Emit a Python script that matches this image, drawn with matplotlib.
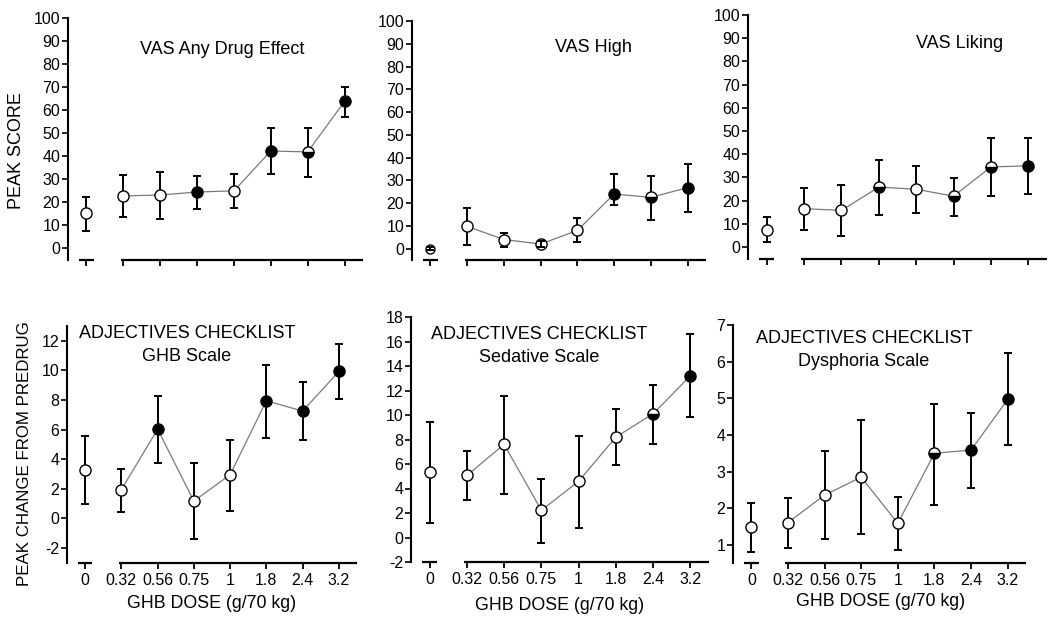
import matplotlib
matplotlib.use('Agg')
import matplotlib.pyplot as plt
import numpy as np

plt.rcParams['font.family'] = ['Liberation Sans', 'DejaVu Sans']

# ---------------- data ----------------
doses = ['0', '0.32', '0.56', '0.75', '1', '1.8', '2.4', '3.2']

any_mean = [15.5, 22.8, 23.2, 24.5, 25.0, 42.3, 41.9, 63.8]
any_lo = [7.7, 13.6, 12.6, 17.2, 17.7, 32.2, 31.0, 57.2]
any_hi = [22.5, 31.9, 33.2, 31.4, 32.2, 52.3, 52.3, 70.0]
any_fill = ['o', 'o', 'o', 'f', 'o', 'f', 'h', 'f']

high_mean = [0.0, 9.8, 4.0, 2.0, 8.0, 24.0, 22.5, 26.8]
high_lo = [-0.8, 1.5, 0.7, 0.6, 2.9, 19.0, 12.7, 16.1]
high_hi = [0.8, 18.0, 6.7, 3.5, 13.3, 33.0, 31.9, 37.3]
high_fill = ['o', 'o', 'o', 'o', 'o', 'f', 'h', 'f']

liking_mean = [7.5, 16.5, 15.8, 25.8, 24.9, 21.9, 34.5, 35.0]
liking_lo = [2.0, 7.5, 4.9, 13.8, 14.7, 13.4, 21.9, 22.7]
liking_hi = [13.0, 25.5, 26.9, 37.4, 34.8, 29.8, 47.0, 47.0]
liking_fill = ['o', 'o', 'o', 'h', 'o', 'h', 'h', 'f']

ghb_mean = [3.29, 1.94, 6.03, 1.17, 2.95, 7.95, 7.25, 9.93]
ghb_lo = [1.0, 0.45, 3.74, -1.4, 0.5, 5.4, 5.29, 8.08]
ghb_hi = [5.54, 3.35, 8.3, 3.74, 5.33, 10.38, 9.25, 11.77]
ghb_fill = ['o', 'o', 'f', 'o', 'o', 'f', 'f', 'f']

sed_mean = [5.35, 5.07, 7.6, 2.22, 4.59, 8.2, 10.1, 13.2]
sed_lo = [1.18, 3.09, 3.58, -0.42, 0.8, 5.89, 7.63, 9.84]
sed_hi = [9.43, 7.03, 11.55, 4.8, 8.31, 10.52, 12.48, 16.59]
sed_fill = ['o', 'o', 'o', 'o', 'o', 'o', 'h', 'f']

dys_mean = [1.48, 1.61, 2.36, 2.85, 1.59, 3.5, 3.59, 4.97]
dys_lo = [0.82, 0.93, 1.15, 1.29, 0.86, 2.09, 2.56, 3.73]
dys_hi = [2.14, 2.27, 3.57, 4.41, 2.32, 4.85, 4.61, 6.23]
dys_fill = ['o', 'o', 'o', 'o', 'o', 'h', 'f', 'f']

titles = [['VAS Any Drug Effect'], ['VAS High'], ['VAS Liking'],
          ['ADJECTIVES CHECKLIST', 'GHB Scale'],
          ['ADJECTIVES CHECKLIST', 'Sedative Scale'],
          ['ADJECTIVES CHECKLIST', 'Dysphoria Scale']]

# ---------------- figure ----------------
W, H = 1050, 621
fig = plt.figure(figsize=(W / 100, H / 100), dpi=100)


def px_axes(left, right, top, bottom):
    return fig.add_axes([left / W, 1 - bottom / H, (right - left) / W, (bottom - top) / H])


panels = [
    dict(box=(68, 363, 18, 260), mean=any_mean, lo=any_lo, hi=any_hi, fill=any_fill,
         ylim=(-5, 100), yticks=np.arange(0, 101, 10), title=titles[0], tpos=[(0.522, 0.868)],
         xlab=False, bar_top=[]),
    dict(box=(412, 706, 21, 260), mean=high_mean, lo=high_lo, hi=high_hi, fill=high_fill,
         ylim=(-5, 100), yticks=np.arange(0, 101, 10), title=titles[1], tpos=[(0.616, 0.891)],
         xlab=False, bar_top=[0, 3]),
    dict(box=(748, 1047, 15, 258.6), mean=liking_mean, lo=liking_lo, hi=liking_hi, fill=liking_fill,
         ylim=(-5, 100), yticks=np.arange(0, 101, 10), title=titles[2], tpos=[(0.709, 0.885)],
         xlab=False, bar_top=[]),
    dict(box=(67, 357, 326, 562.8), mean=ghb_mean, lo=ghb_lo, hi=ghb_hi, fill=ghb_fill,
         ylim=(-3, 13), yticks=np.arange(-2, 13, 2), title=titles[3],
         tpos=[(0.413, 0.970), (0.413, 0.873)], xlab=True, bar_top=[]),
    dict(box=(411, 709, 317, 562), mean=sed_mean, lo=sed_lo, hi=sed_hi, fill=sed_fill,
         ylim=(-2, 18), yticks=np.arange(-2, 19, 2), title=titles[4],
         tpos=[(0.43, 0.927), (0.43, 0.833)], xlab=True, bar_top=[]),
    dict(box=(733, 1026, 325, 563.3), mean=dys_mean, lo=dys_lo, hi=dys_hi, fill=dys_fill,
         ylim=(0.5, 7), yticks=np.arange(1, 8, 1), title=titles[5],
         tpos=[(0.447, 0.945), (0.447, 0.845)], xlab=True, bar_top=[]),
]

x = np.arange(len(doses))
for p in panels:
    l, r, t, b = p['box']
    ax = px_axes(l, r, t, b)
    mean = np.array(p['mean'])
    lo = np.array(p['lo'])
    hi = np.array(p['hi'])

    # connecting line (doses > 0)
    ax.plot(x[1:], mean[1:], color='#7a7a7a', lw=0.9, zorder=1)
    for i in range(len(x)):
        zb = 4 if i in p['bar_top'] else 2
        ax.errorbar([x[i]], [mean[i]], yerr=[[mean[i] - lo[i]], [hi[i] - mean[i]]],
                    fmt='none', ecolor='black', elinewidth=1.4, capsize=3.2,
                    capthick=1.4, zorder=zb)
        f = p['fill'][i]
        ms = 6.5 if (i in p['bar_top'] and i == 0) else 8
        if f == 'o':
            ax.plot(x[i], mean[i], 'o', ms=ms, mfc='white', mec='black', mew=1.0, zorder=3)
        elif f == 'f':
            ax.plot(x[i], mean[i], 'o', ms=ms, mfc='black', mec='black', mew=1.0, zorder=3)
        else:
            ax.plot(x[i], mean[i], 'o', ms=ms, fillstyle='bottom', mfc='black',
                    markerfacecoloralt='white', mec='black', mew=1.0, zorder=3)

    ax.set_xlim(-0.5, 7.5)
    ax.set_ylim(*p['ylim'])
    ax.set_yticks(p['yticks'])
    ax.set_yticklabels([f'{v:g}' for v in p['yticks']])
    ax.set_xticks(x)
    if p['xlab']:
        ax.set_xticklabels(doses)
    else:
        ax.set_xticklabels([])
    for s in ['top', 'right', 'bottom']:
        ax.spines[s].set_visible(False)
    ax.spines['left'].set_linewidth(1.5)
    ax.tick_params(axis='y', direction='out', length=4, width=1.2, pad=1.5, labelsize=11.5)
    ax.tick_params(axis='x', direction='out', length=4, width=1.3, pad=3, labelsize=11.5)

    # broken x axis
    tr = ax.get_xaxis_transform()
    ax.plot([-0.2, 0.2], [0, 0], color='black', lw=1.6, transform=tr, clip_on=False,
            solid_capstyle='butt')
    ax.plot([0.93, 7.5], [0, 0], color='black', lw=1.6, transform=tr, clip_on=False,
            solid_capstyle='butt')

    for txt, (tx, ty) in zip(p['title'], p['tpos']):
        ax.text(tx, ty, txt, transform=ax.transAxes, ha='center', va='center', fontsize=13)

fig.text(17 / W, 1 - 151 / H, 'PEAK SCORE', rotation=90, ha='center', va='center', fontsize=13)
fig.text(25 / W, 1 - 454 / H, 'PEAK CHANGE FROM PREDRUG', rotation=90, ha='center',
         va='center', fontsize=12.2)
for cx, cy in [(212, 603), (560, 605), (881, 602)]:
    fig.text(cx / W, 1 - cy / H, 'GHB DOSE (g/70 kg)', ha='center', va='center', fontsize=12.8)

fig.savefig('out.png', dpi=100, facecolor='white')
